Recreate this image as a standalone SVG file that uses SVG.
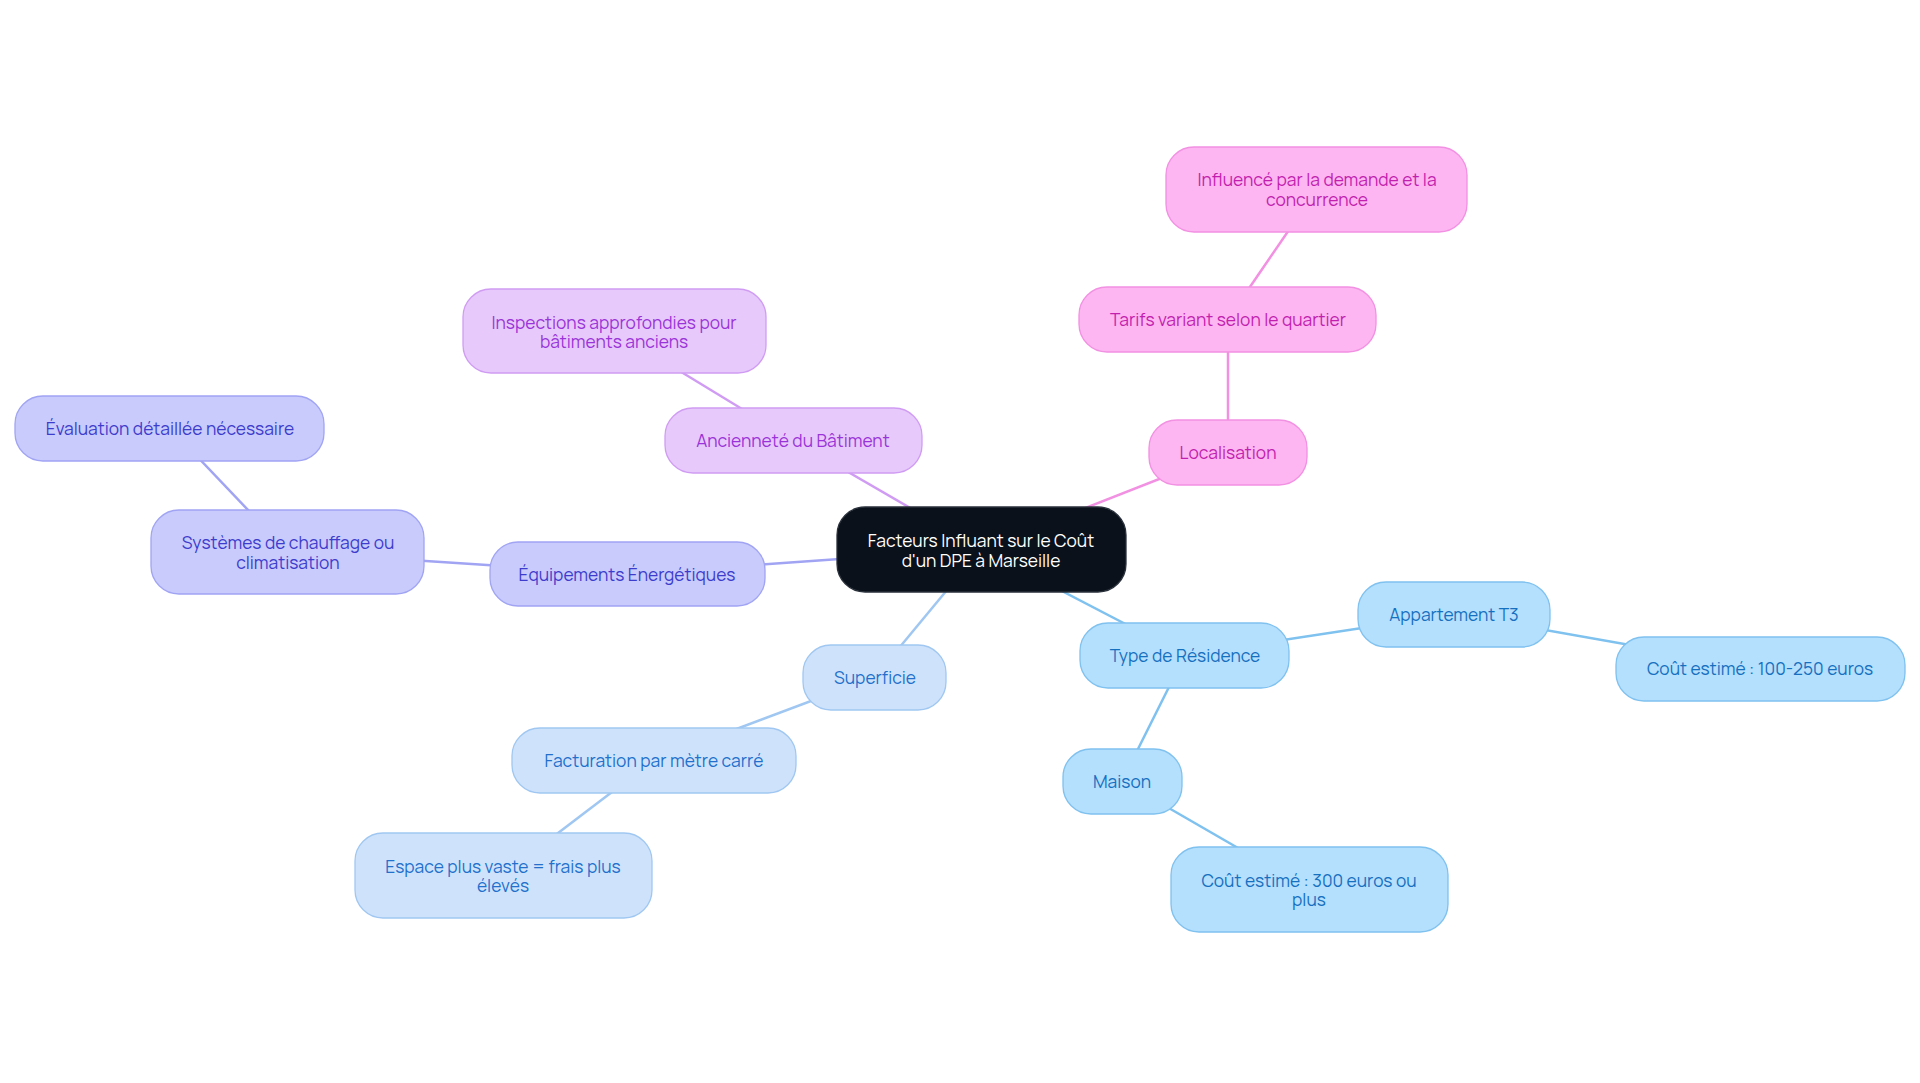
<svg xmlns="http://www.w3.org/2000/svg" width="1920" height="1083" viewBox="0 0 1920 1083">
<style>
text{font-family:Manrope,Inter,"Noto Sans",sans-serif;font-size:17.4px;text-anchor:middle;dominant-baseline:central}
.c line{stroke-width:2.5;fill:none}
.pk rect{fill:#fdb6f2;stroke:#f290e2}.pk text{fill:#c21fae}
.pu rect{fill:#e8c9fb;stroke:#d09cf3}.pu text{fill:#9a34d8}
.in rect{fill:#c8cbfc;stroke:#a0a4f3}.in text{fill:#3d3ccc}
.lb rect{fill:#cee3fb;stroke:#a0c7f1}.lb text{fill:#2270cc}
.bl rect{fill:#b4dffd;stroke:#7fc1ef}.bl text{fill:#1670c0}
rect{stroke-width:1.3}
</style>
<rect width="1920" height="1083" fill="#ffffff"/>
<g class="c" id="connectors">
<line x1="981" y1="549" x2="1228" y2="452" stroke="#f290e2"/>
<line x1="1228" y1="452" x2="1228" y2="319" stroke="#f290e2"/>
<line x1="1228" y1="319" x2="1317" y2="189" stroke="#f290e2"/>
<line x1="981" y1="549" x2="793" y2="440" stroke="#d09cf3"/>
<line x1="793" y1="440" x2="614" y2="331" stroke="#d09cf3"/>
<line x1="981" y1="549" x2="627" y2="574" stroke="#a0a4f3"/>
<line x1="627" y1="574" x2="288" y2="552" stroke="#a0a4f3"/>
<line x1="288" y1="552" x2="170" y2="428" stroke="#a0a4f3"/>
<line x1="981" y1="549" x2="875" y2="677" stroke="#a0c7f1"/>
<line x1="875" y1="677" x2="654" y2="760" stroke="#a0c7f1"/>
<line x1="654" y1="760" x2="503" y2="875" stroke="#a0c7f1"/>
<line x1="981" y1="549" x2="1185" y2="655" stroke="#7fc1ef"/>
<line x1="1185" y1="655" x2="1454" y2="614" stroke="#7fc1ef"/>
<line x1="1454" y1="614" x2="1760" y2="668" stroke="#7fc1ef"/>
<line x1="1185" y1="655" x2="1122" y2="781" stroke="#7fc1ef"/>
<line x1="1122" y1="781" x2="1309" y2="889" stroke="#7fc1ef"/>
</g>
<g id="root"><rect x="837" y="507" width="289" height="85" rx="28" fill="#0b111b" stroke="#2a313b" stroke-width="1.3"/><text x="981" y="540" fill="#ffffff">Facteurs Influant sur le Coût</text><text x="981" y="560" fill="#ffffff">d'un DPE à Marseille</text></g>
<g id="localisation" class="pk"><rect x="1149" y="420" width="158" height="65" rx="28"/><text x="1228" y="452">Localisation</text></g>
<g id="tarifs" class="pk"><rect x="1079" y="287" width="297" height="65" rx="28"/><text x="1228" y="319">Tarifs variant selon le quartier</text></g>
<g id="influence" class="pk"><rect x="1166" y="147" width="301" height="85" rx="28"/><text x="1317" y="179">Influencé par la demande et la</text><text x="1317" y="199">concurrence</text></g>
<g id="anciennete" class="pu"><rect x="665" y="408" width="257" height="65" rx="28"/><text x="793" y="440">Ancienneté du Bâtiment</text></g>
<g id="inspections" class="pu"><rect x="463" y="289" width="303" height="84" rx="28"/><text x="614" y="322">Inspections approfondies pour</text><text x="614" y="341">bâtiments anciens</text></g>
<g id="equipements" class="in"><rect x="490" y="542" width="275" height="64" rx="28"/><text x="627" y="574">Équipements Énergétiques</text></g>
<g id="systemes" class="in"><rect x="151" y="510" width="273" height="84" rx="28"/><text x="288" y="542">Systèmes de chauffage ou</text><text x="288" y="562">climatisation</text></g>
<g id="evaluation" class="in"><rect x="15" y="396" width="309" height="65" rx="28"/><text x="170" y="428">Évaluation détaillée nécessaire</text></g>
<g id="superficie" class="lb"><rect x="803" y="645" width="143" height="65" rx="28"/><text x="875" y="677">Superficie</text></g>
<g id="facturation" class="lb"><rect x="512" y="728" width="284" height="65" rx="28"/><text x="654" y="760">Facturation par mètre carré</text></g>
<g id="espace" class="lb"><rect x="355" y="833" width="297" height="85" rx="28"/><text x="503" y="866">Espace plus vaste = frais plus</text><text x="503" y="885">élevés</text></g>
<g id="type" class="bl"><rect x="1080" y="623" width="209" height="65" rx="28"/><text x="1185" y="655">Type de Résidence</text></g>
<g id="appartement" class="bl"><rect x="1358" y="582" width="192" height="65" rx="28"/><text x="1454" y="614">Appartement T3</text></g>
<g id="cout100" class="bl"><rect x="1616" y="637" width="289" height="64" rx="28"/><text x="1760" y="668">Coût estimé : 100-250 euros</text></g>
<g id="maison" class="bl"><rect x="1063" y="749" width="119" height="65" rx="28"/><text x="1122" y="781">Maison</text></g>
<g id="cout300" class="bl"><rect x="1171" y="847" width="277" height="85" rx="28"/><text x="1309" y="880">Coût estimé : 300 euros ou</text><text x="1309" y="899">plus</text></g>
</svg>
